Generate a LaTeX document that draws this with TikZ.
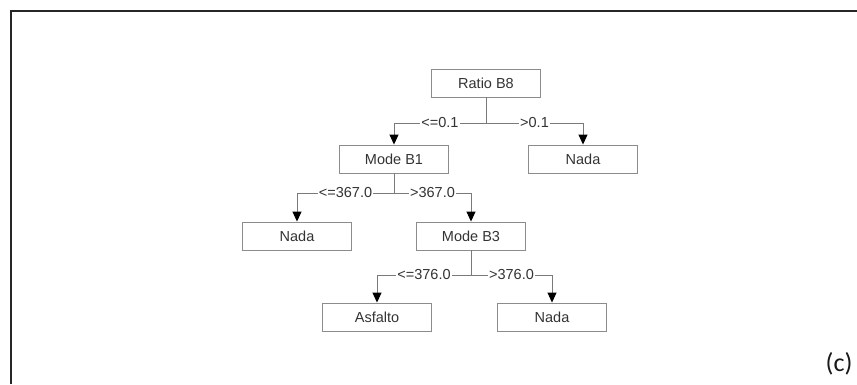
\documentclass[tikz,border=0pt]{standalone}
\usepackage{fontspec}
\setmainfont{Liberation Sans}
\newfontfamily\capfont{Carlito}
\usetikzlibrary{arrows.meta}
\definecolor{boxgray}{HTML}{8C8C8C}
\definecolor{linegray}{HTML}{7A7A7A}
\definecolor{txtgray}{HTML}{333333}
\tikzset{>=latex,
  leaf/.style={draw=boxgray, line width=0.9pt, minimum width=109pt, minimum height=28pt,
    inner sep=0pt, text=txtgray, font=\fontsize{14.5}{16}\selectfont},
  branch/.style={draw=linegray, line width=0.9pt, -{Triangle[length=10pt,width=9pt,black]}},
  cond/.style={pos=0.25, fill=white, inner sep=1pt, text=txtgray, font=\fontsize{14.5}{16}\selectfont}
}
\begin{document}
\begin{tikzpicture}[x=1pt,y=1pt]
\useasboundingbox[fill=white] (0,0) rectangle (857,384);
\draw[line width=1.6pt, black!85] (11,0) -- (11,373) -- (857,373);
% nodes of the tree
\node[leaf] (ratio) at (486,301) {Ratio B8};
\node[leaf] (modeone) at (394,225) {Mode B1};
\node[leaf] (nadaR) at (583,225) {Nada};
\node[leaf] (nadaL) at (297,148) {Nada};
\node[leaf] (modethree) at (471,148) {Mode B3};
\node[leaf] (asfalto) at (377,67) {Asfalto};
\node[leaf] (nadaB) at (552,67) {Nada};
\coordinate (split1) at (486,261);
\coordinate (split2) at (394,191);
\coordinate (split3) at (471,109);
% branches
\draw[draw=linegray, line width=0.9pt] (ratio) -- (split1);
\draw[branch] (split1) -| node[cond]{<=0.1} (modeone);
\draw[branch] (split1) -| node[cond]{>0.1} (nadaR);
\draw[draw=linegray, line width=0.9pt] (modeone) -- (split2);
\draw[branch] (split2) -| node[cond]{<=367.0} (nadaL);
\draw[branch] (split2) -| node[cond]{>367.0} (modethree);
\draw[draw=linegray, line width=0.9pt] (modethree) -- (split3);
\draw[branch] (split3) -| node[cond]{<=376.0} (asfalto);
\draw[branch] (split3) -| node[cond]{>376.0} (nadaB);
\node[font=\capfont\fontsize{26}{30}\selectfont, text=black!90] (tag) at (839,20) {(c)};
\end{tikzpicture}
\end{document}
